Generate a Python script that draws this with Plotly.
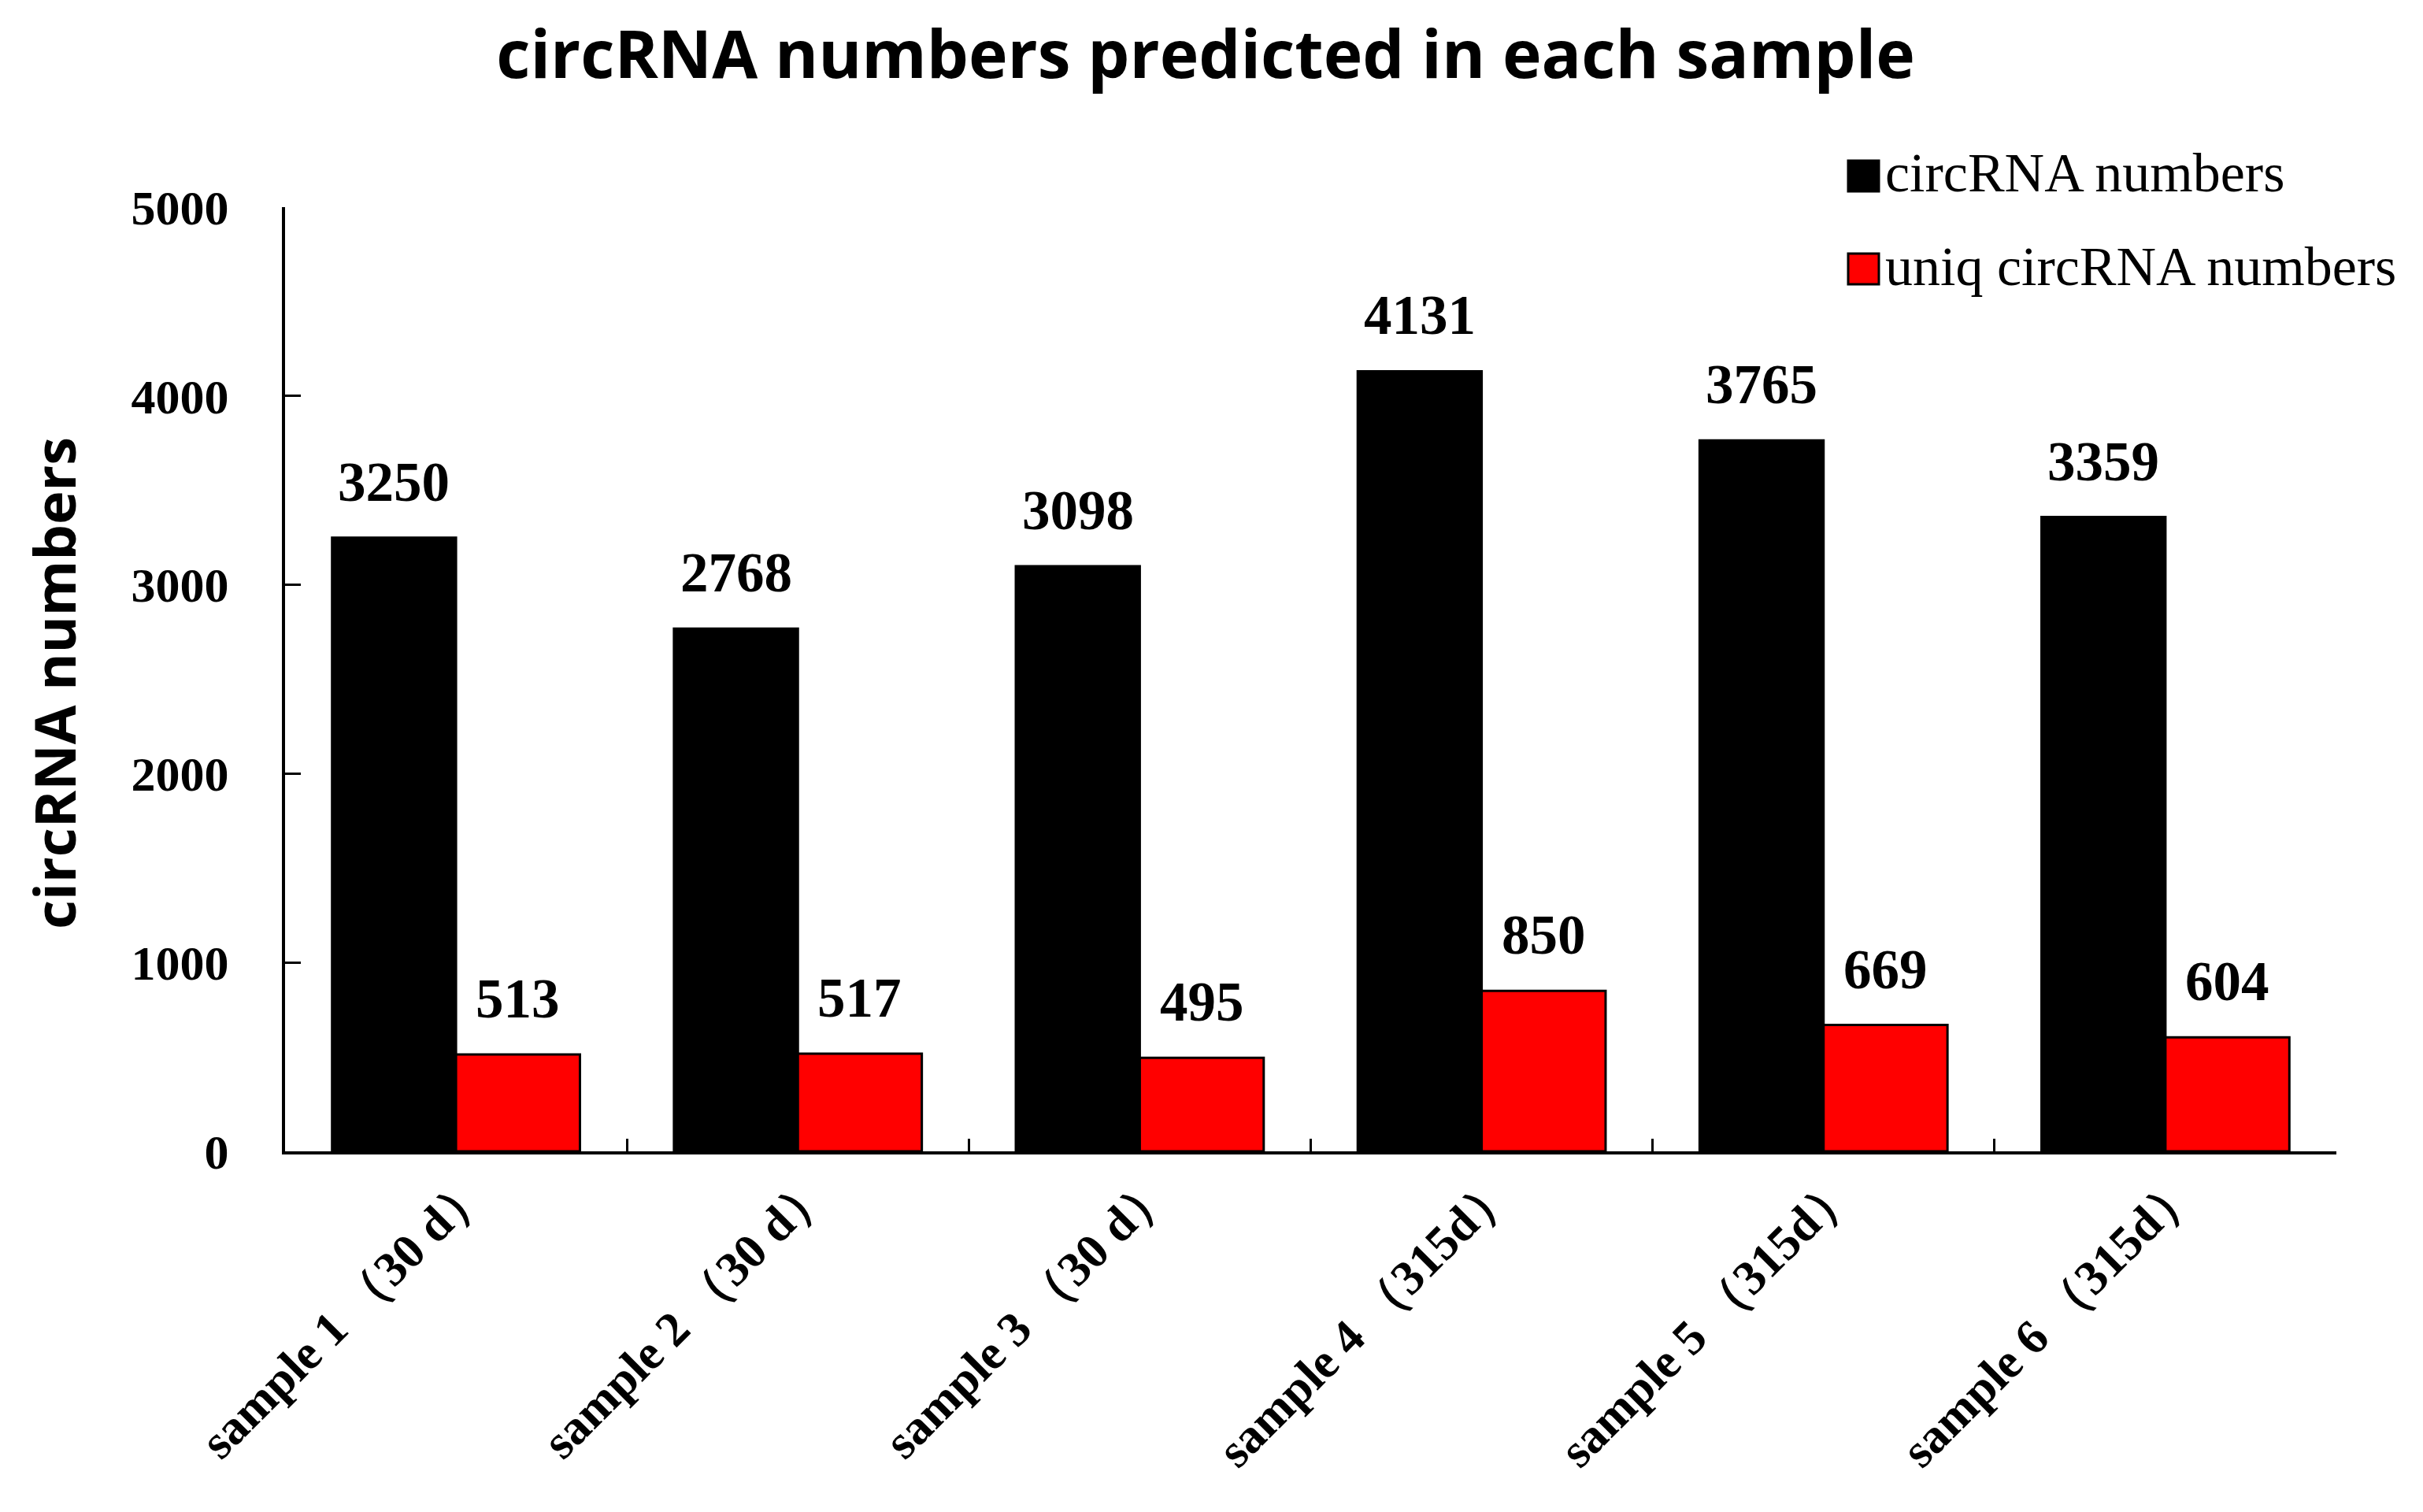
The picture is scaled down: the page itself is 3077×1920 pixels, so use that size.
import plotly.graph_objects as go

categories = ["sample 1 （30 d）", "sample 2 （30 d）", "sample 3 （30 d）",
              "sample 4 （315d）", "sample 5 （315d）", "sample 6 （315d）"]
circ_numbers = [3250, 2768, 3098, 4131, 3765, 3359]
uniq_numbers = [513, 517, 495, 850, 669, 604]
series_names = ["circRNA numbers", "uniq circRNA numbers"]
y_ticks = [0, 1000, 2000, 3000, 4000, 5000]

W, H = 3077, 1920
ML, MR, MT, MB = 354, 118, 255, 466
BARGAP = 0.275
plot_w = W - ML - MR
bar_w = plot_w / len(categories) * (1 - BARGAP) / 2

serif = "Liberation Serif, Times New Roman, serif"
sans = "Open Sans, Noto Sans, sans-serif"

fig = go.Figure()
fig.add_trace(go.Bar(x=categories, y=circ_numbers, name=series_names[0],
                     marker=dict(color="#000000", line=dict(color="#000000", width=3)),
                     showlegend=False))
fig.add_trace(go.Bar(x=categories, y=uniq_numbers, name=series_names[1],
                     marker=dict(color="#FF0000", line=dict(color="#000000", width=3)),
                     showlegend=False))

# value labels above bars
for cat, v in zip(categories, circ_numbers):
    fig.add_annotation(x=cat, y=v, text=str(v), showarrow=False, xref="x", yref="y",
                       xshift=-bar_w / 2, yshift=30, yanchor="bottom",
                       font=dict(family=serif, size=71, color="black", weight="bold"))
for cat, v in zip(categories, uniq_numbers):
    fig.add_annotation(x=cat, y=v, text=str(v), showarrow=False, xref="x", yref="y",
                       xshift=bar_w / 2, yshift=30, yanchor="bottom",
                       font=dict(family=serif, size=71, color="black", weight="bold"))

# custom legend
def px_x(p):
    return (p - ML) / plot_w

def px_y(p):
    return (H - MB - p) / (H - MT - MB)

legend_rows = [(series_names[0], "#000000", 196, 235, 212),
               (series_names[1], "#FF0000", 314, 353, 330)]
for name, col, y0, y1, yc in legend_rows:
    fig.add_shape(type="rect", xref="paper", yref="paper",
                  x0=px_x(2339), x1=px_x(2378), y0=px_y(y1), y1=px_y(y0),
                  fillcolor=col, line=dict(color="black", width=3))
    fig.add_annotation(xref="paper", yref="paper", x=px_x(2384), y=px_y(yc),
                       text=name, showarrow=False, xanchor="left", yanchor="middle",
                       font=dict(family=serif, size=70, color="black"))

# y axis title
fig.add_annotation(xref="paper", yref="paper", x=px_x(60), y=px_y(860),
                   text="circRNA numbers", textangle=-90, showarrow=False,
                   xanchor="center", yanchor="middle",
                   font=dict(family=sans, size=72, color="black", weight="bold"))

fig.update_layout(
    width=W, height=H,
    margin=dict(l=ML, r=MR, t=MT, b=MB, autoexpand=False),
    paper_bgcolor="white", plot_bgcolor="white",
    barmode="group", bargap=BARGAP, bargroupgap=0,
    title=dict(text="circRNA numbers predicted in each sample", x=0.495, y=0.968,
               xanchor="center", yanchor="middle",
               font=dict(family=sans, size=84, color="black", weight="bold")),
    xaxis=dict(showline=True, linecolor="black", linewidth=4, ticks="inside",
               tickson="boundaries", ticklen=16, tickwidth=3, tickcolor="black",
               tickangle=-45, ticklabelstandoff=-18, ticklabelshift=22, showgrid=False,
               tickfont=dict(family=serif, size=62, color="black", weight="bold")),
    yaxis=dict(range=[0, 5000], tickvals=y_ticks, ticktext=[str(t) for t in y_ticks],
               showline=True, linecolor="black", linewidth=4, ticks="inside",
               ticklen=20, tickwidth=3, tickcolor="black", showgrid=False, zeroline=False,
               ticklabelstandoff=55,
               tickfont=dict(family=serif, size=62, color="black", weight="bold")),
)

fig.write_html("out.html")
